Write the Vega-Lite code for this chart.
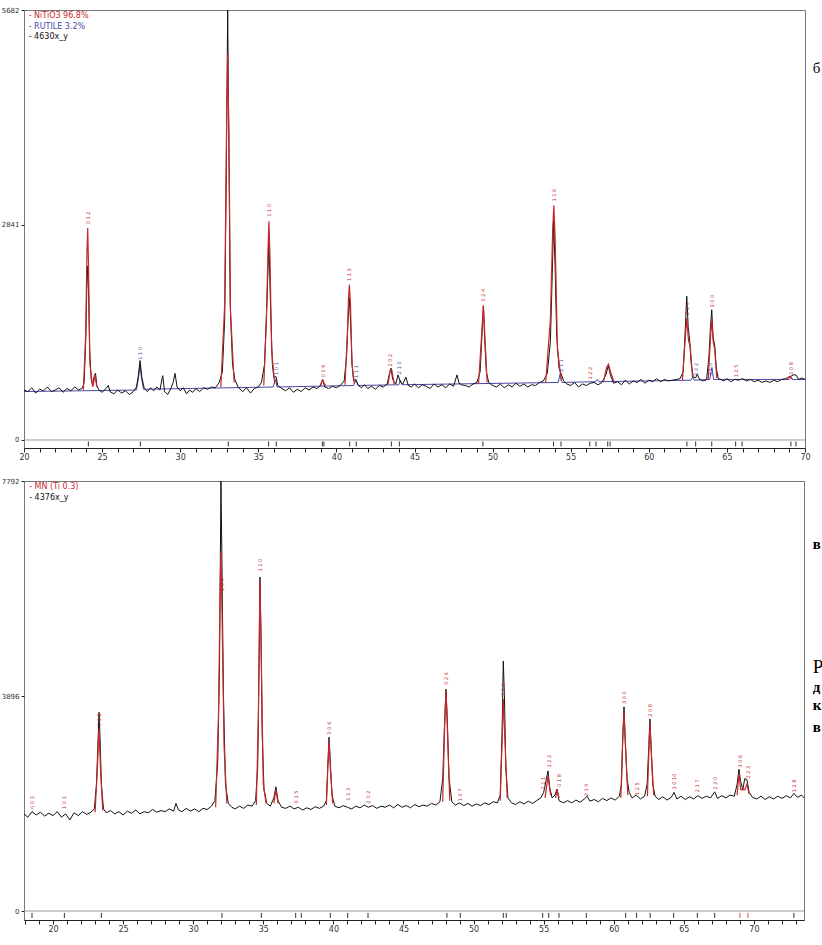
{
"$schema": "https://vega.github.io/schema/vega-lite/v6.json",
"background": "white",
"padding": {"left": 0, "top": 5, "right": 0, "bottom": 0},
"spacing": 14,
"config": {
  "view": {"stroke": "#777", "strokeWidth": 1},
  "axis": {"labelFont": "DejaVu Sans", "labelFontSize": 8, "labelColor": "#333", "grid": false, "title": null, "tickColor": "#222", "domainColor": "#222"}
},
"datasets": {
 "topObs": [{"x":20.0,"y":660},{"x":20.25,"y":640},{"x":20.5,"y":690},{"x":20.75,"y":620},{"x":21.0,"y":670},{"x":21.25,"y":650},{"x":21.5,"y":700},{"x":21.75,"y":640},{"x":22.0,"y":660},{"x":22.25,"y":690},{"x":22.5,"y":630},{"x":22.75,"y":680},{"x":23.0,"y":650},{"x":23.25,"y":700},{"x":23.5,"y":660},{"x":23.75,"y":690},{"x":23.85,"y":760},{"x":23.95,"y":1300},{"x":24.02,"y":2000},{"x":24.08,"y":2300},{"x":24.14,"y":1900},{"x":24.2,"y":1200},{"x":24.3,"y":800},{"x":24.4,"y":720},{"x":24.5,"y":850},{"x":24.58,"y":880},{"x":24.66,"y":720},{"x":24.8,"y":660},{"x":25.0,"y":630},{"x":25.25,"y":680},{"x":25.4,"y":720},{"x":25.5,"y":640},{"x":25.75,"y":610},{"x":26.0,"y":660},{"x":26.25,"y":620},{"x":26.5,"y":650},{"x":26.75,"y":600},{"x":27.0,"y":640},{"x":27.2,"y":700},{"x":27.3,"y":820},{"x":27.43,"y":1050},{"x":27.55,"y":820},{"x":27.7,"y":680},{"x":27.9,"y":640},{"x":28.1,"y":690},{"x":28.3,"y":650},{"x":28.5,"y":700},{"x":28.7,"y":660},{"x":28.88,"y":850},{"x":29.0,"y":640},{"x":29.2,"y":600},{"x":29.4,"y":680},{"x":29.55,"y":760},{"x":29.67,"y":880},{"x":29.8,"y":700},{"x":30.0,"y":650},{"x":30.2,"y":690},{"x":30.4,"y":610},{"x":30.6,"y":660},{"x":30.8,"y":630},{"x":31.0,"y":680},{"x":31.25,"y":640},{"x":31.5,"y":690},{"x":31.75,"y":670},{"x":32.0,"y":700},{"x":32.25,"y":690},{"x":32.5,"y":760},{"x":32.7,"y":900},{"x":32.85,"y":1600},{"x":32.95,"y":3500},{"x":33.04,"y":5682},{"x":33.12,"y":3800},{"x":33.2,"y":1800},{"x":33.35,"y":1000},{"x":33.5,"y":800},{"x":33.7,"y":700},{"x":34.0,"y":640},{"x":34.25,"y":690},{"x":34.5,"y":620},{"x":34.75,"y":680},{"x":35.0,"y":700},{"x":35.2,"y":760},{"x":35.4,"y":1000},{"x":35.55,"y":1800},{"x":35.68,"y":2630},{"x":35.78,"y":1800},{"x":35.9,"y":1000},{"x":36.0,"y":820},{"x":36.13,"y":840},{"x":36.25,"y":720},{"x":36.5,"y":680},{"x":36.75,"y":650},{"x":37.0,"y":690},{"x":37.25,"y":630},{"x":37.5,"y":670},{"x":37.75,"y":640},{"x":38.0,"y":690},{"x":38.25,"y":660},{"x":38.5,"y":700},{"x":38.75,"y":680},{"x":39.0,"y":720},{"x":39.12,"y":800},{"x":39.25,"y":700},{"x":39.5,"y":680},{"x":39.75,"y":710},{"x":40.0,"y":690},{"x":40.25,"y":720},{"x":40.5,"y":780},{"x":40.65,"y":1100},{"x":40.75,"y":1600},{"x":40.83,"y":1880},{"x":40.92,"y":1500},{"x":41.0,"y":1000},{"x":41.1,"y":780},{"x":41.25,"y":800},{"x":41.4,"y":720},{"x":41.6,"y":690},{"x":41.8,"y":730},{"x":42.0,"y":680},{"x":42.25,"y":710},{"x":42.5,"y":670},{"x":42.75,"y":720},{"x":43.0,"y":700},{"x":43.25,"y":740},{"x":43.4,"y":880},{"x":43.5,"y":950},{"x":43.6,"y":800},{"x":43.8,"y":740},{"x":43.95,"y":860},{"x":44.1,"y":760},{"x":44.25,"y":740},{"x":44.45,"y":830},{"x":44.6,"y":720},{"x":44.8,"y":700},{"x":45.0,"y":740},{"x":45.25,"y":690},{"x":45.5,"y":730},{"x":45.75,"y":710},{"x":46.0,"y":680},{"x":46.25,"y":740},{"x":46.5,"y":700},{"x":46.75,"y":730},{"x":47.0,"y":690},{"x":47.25,"y":740},{"x":47.5,"y":710},{"x":47.72,"y":860},{"x":47.85,"y":750},{"x":48.0,"y":730},{"x":48.25,"y":720},{"x":48.5,"y":700},{"x":48.75,"y":740},{"x":49.0,"y":760},{"x":49.2,"y":900},{"x":49.3,"y":1300},{"x":49.41,"y":1770},{"x":49.5,"y":1300},{"x":49.6,"y":900},{"x":49.75,"y":760},{"x":50.0,"y":720},{"x":50.25,"y":700},{"x":50.5,"y":740},{"x":50.75,"y":690},{"x":51.0,"y":730},{"x":51.25,"y":700},{"x":51.5,"y":750},{"x":51.75,"y":710},{"x":52.0,"y":740},{"x":52.25,"y":700},{"x":52.5,"y":730},{"x":52.75,"y":720},{"x":53.0,"y":760},{"x":53.25,"y":780},{"x":53.5,"y":880},{"x":53.7,"y":1300},{"x":53.82,"y":2200},{"x":53.91,"y":2900},{"x":54.0,"y":2300},{"x":54.1,"y":1400},{"x":54.25,"y":950},{"x":54.38,"y":880},{"x":54.55,"y":780},{"x":54.75,"y":740},{"x":55.0,"y":720},{"x":55.25,"y":760},{"x":55.5,"y":700},{"x":55.75,"y":740},{"x":56.0,"y":720},{"x":56.25,"y":750},{"x":56.5,"y":760},{"x":56.75,"y":730},{"x":57.0,"y":760},{"x":57.25,"y":860},{"x":57.41,"y":980},{"x":57.55,"y":850},{"x":57.75,"y":750},{"x":58.0,"y":770},{"x":58.25,"y":730},{"x":58.5,"y":790},{"x":58.75,"y":740},{"x":59.0,"y":780},{"x":59.25,"y":760},{"x":59.5,"y":800},{"x":59.75,"y":750},{"x":60.0,"y":790},{"x":60.25,"y":770},{"x":60.5,"y":810},{"x":60.75,"y":770},{"x":61.0,"y":800},{"x":61.25,"y":780},{"x":61.5,"y":790},{"x":61.75,"y":800},{"x":62.0,"y":810},{"x":62.2,"y":900},{"x":62.32,"y":1400},{"x":62.43,"y":1900},{"x":62.52,"y":1500},{"x":62.62,"y":1300},{"x":62.72,"y":1000},{"x":62.85,"y":830},{"x":63.0,"y":820},{"x":63.1,"y":870},{"x":63.25,"y":800},{"x":63.5,"y":780},{"x":63.7,"y":800},{"x":63.85,"y":1100},{"x":63.95,"y":1500},{"x":64.03,"y":1720},{"x":64.12,"y":1350},{"x":64.22,"y":1250},{"x":64.32,"y":950},{"x":64.45,"y":810},{"x":64.6,"y":800},{"x":64.8,"y":780},{"x":65.0,"y":810},{"x":65.25,"y":770},{"x":65.5,"y":800},{"x":65.75,"y":790},{"x":66.0,"y":810},{"x":66.25,"y":780},{"x":66.5,"y":800},{"x":66.75,"y":770},{"x":67.0,"y":790},{"x":67.25,"y":760},{"x":67.5,"y":780},{"x":67.75,"y":760},{"x":68.0,"y":790},{"x":68.25,"y":770},{"x":68.5,"y":800},{"x":68.75,"y":810},{"x":69.0,"y":830},{"x":69.25,"y":860},{"x":69.42,"y":860},{"x":69.6,"y":800},{"x":69.8,"y":820},{"x":70.0,"y":800}],
 "topRed": [{"s":1,"x":23.8,"y":660},{"s":1,"x":23.95,"y":1400},{"s":1,"x":24.03,"y":2500},{"s":1,"x":24.08,"y":2800},{"s":1,"x":24.13,"y":2300},{"s":1,"x":24.22,"y":1000},{"s":1,"x":24.4,"y":700},{"s":1,"x":24.55,"y":860},{"s":1,"x":24.65,"y":700},
  {"s":2,"x":32.6,"y":700},{"s":2,"x":32.85,"y":1800},{"s":2,"x":32.96,"y":4000},{"s":2,"x":33.04,"y":5100},{"s":2,"x":33.12,"y":4000},{"s":2,"x":33.22,"y":1700},{"s":2,"x":33.45,"y":760},
  {"s":3,"x":35.35,"y":720},{"s":3,"x":35.52,"y":1600},{"s":3,"x":35.62,"y":2500},{"s":3,"x":35.68,"y":2890},{"s":3,"x":35.75,"y":2400},{"s":3,"x":35.85,"y":1200},{"s":3,"x":36.05,"y":740},
  {"s":4,"x":38.95,"y":720},{"s":4,"x":39.12,"y":790},{"s":4,"x":39.3,"y":720},
  {"s":5,"x":40.55,"y":730},{"s":5,"x":40.7,"y":1400},{"s":5,"x":40.78,"y":1900},{"s":5,"x":40.83,"y":2050},{"s":5,"x":40.9,"y":1800},{"s":5,"x":41.0,"y":1000},{"s":5,"x":41.15,"y":740},
  {"s":6,"x":43.3,"y":730},{"s":6,"x":43.45,"y":920},{"s":6,"x":43.55,"y":920},{"s":6,"x":43.7,"y":740},
  {"s":7,"x":49.1,"y":740},{"s":7,"x":49.3,"y":1400},{"s":7,"x":49.41,"y":1780},{"s":7,"x":49.5,"y":1400},{"s":7,"x":49.65,"y":760},
  {"s":8,"x":53.4,"y":760},{"s":8,"x":53.7,"y":1600},{"s":8,"x":53.85,"y":2800},{"s":8,"x":53.92,"y":3100},{"s":8,"x":54.0,"y":2700},{"s":8,"x":54.15,"y":1200},{"s":8,"x":54.4,"y":780},
  {"s":9,"x":57.1,"y":770},{"s":9,"x":57.3,"y":960},{"s":9,"x":57.42,"y":1000},{"s":9,"x":57.55,"y":900},{"s":9,"x":57.75,"y":780},
  {"s":10,"x":62.15,"y":790},{"s":10,"x":62.32,"y":1300},{"s":10,"x":62.43,"y":1610},{"s":10,"x":62.55,"y":1300},{"s":10,"x":62.65,"y":1250},{"s":10,"x":62.8,"y":830},
  {"s":11,"x":63.8,"y":790},{"s":11,"x":63.95,"y":1350},{"s":11,"x":64.03,"y":1600},{"s":11,"x":64.12,"y":1300},{"s":11,"x":64.22,"y":1200},{"s":11,"x":64.35,"y":820},
  {"s":12,"x":68.8,"y":800},{"s":12,"x":69.0,"y":840},{"s":12,"x":69.2,"y":800}],
 "topBlue": [{"x":20,"y":640},{"x":27.2,"y":660},{"x":27.35,"y":850},{"x":27.43,"y":1000},{"x":27.5,"y":850},{"x":27.65,"y":670},{"x":35.95,"y":700},{"x":36.1,"y":800},{"x":36.2,"y":700},{"x":41.1,"y":720},{"x":41.25,"y":790},{"x":41.4,"y":720},{"x":44.0,"y":730},{"x":44.1,"y":790},{"x":44.2,"y":730},{"x":54.2,"y":760},{"x":54.32,"y":870},{"x":54.45,"y":760},{"x":56.6,"y":770},{"x":56.7,"y":800},{"x":56.8,"y":770},{"x":62.7,"y":790},{"x":62.8,"y":830},{"x":62.9,"y":790},{"x":63.9,"y":800},{"x":64.04,"y":960},{"x":64.15,"y":800},{"x":69.0,"y":800},{"x":69.1,"y":830},{"x":69.2,"y":800},{"x":70,"y":800}],
 "topRefl": [{"x":24.12},{"x":27.45},{"x":33.08},{"x":35.66},{"x":36.15},{"x":39.1},{"x":39.2},{"x":40.85},{"x":41.27},{"x":43.52},{"x":44.03},{"x":49.38},{"x":53.9},{"x":54.38},{"x":56.22},{"x":56.62},{"x":57.37},{"x":57.52},{"x":62.44},{"x":63.0},{"x":64.03},{"x":65.56},{"x":65.97},{"x":69.1},{"x":69.42}],
 "topLab": [{"p":"NiTiO3","x":24.08,"y":2850,"t":"0 1 2"},{"p":"NiTiO3","x":35.68,"y":2950,"t":"1 1 0"},{"p":"NiTiO3","x":39.12,"y":830,"t":"0 0 6"},{"p":"NiTiO3","x":40.83,"y":2100,"t":"1 1 3"},{"p":"NiTiO3","x":43.45,"y":970,"t":"2 0 2"},{"p":"NiTiO3","x":49.41,"y":1830,"t":"0 2 4"},{"p":"NiTiO3","x":53.92,"y":3150,"t":"1 1 6"},{"p":"NiTiO3","x":56.22,"y":800,"t":"1 2 2"},{"p":"NiTiO3","x":62.43,"y":1650,"t":"2 1 4"},{"p":"NiTiO3","x":64.03,"y":1750,"t":"3 0 0"},{"p":"NiTiO3","x":65.6,"y":830,"t":"1 2 5"},{"p":"NiTiO3","x":69.1,"y":860,"t":"2 0 8"},
   {"p":"RUTILE","x":27.43,"y":1060,"t":"1 1 0"},{"p":"RUTILE","x":36.13,"y":860,"t":"1 0 1"},{"p":"RUTILE","x":41.25,"y":820,"t":"1 1 1"},{"p":"RUTILE","x":44.03,"y":870,"t":"2 1 0"},{"p":"RUTILE","x":54.38,"y":900,"t":"2 1 1"},{"p":"RUTILE","x":63.0,"y":850,"t":"0 0 2"},{"p":"RUTILE","x":63.9,"y":850,"t":"3 1 0"}],
 "topLegend": [{"p":"NiTiO3","x":20.3,"y":5600,"t":"- NiTiO3  96.8%"},{"p":"RUTILE","x":20.3,"y":5460,"t":"- RUTILE  3.2%"},{"p":"obs","x":20.3,"y":5320,"t":"- 4630x_y"}],
 "botObs": [{"x":17.93,"y":1760},{"x":18.2,"y":1700},{"x":18.5,"y":1800},{"x":18.8,"y":1740},{"x":19.1,"y":1790},{"x":19.4,"y":1720},{"x":19.7,"y":1770},{"x":20.0,"y":1730},{"x":20.3,"y":1800},{"x":20.6,"y":1700},{"x":20.9,"y":1760},{"x":21.2,"y":1650},{"x":21.5,"y":1780},{"x":21.8,"y":1730},{"x":22.1,"y":1800},{"x":22.4,"y":1750},{"x":22.7,"y":1790},{"x":22.95,"y":1850},{"x":23.1,"y":2300},{"x":23.2,"y":3000},{"x":23.28,"y":3600},{"x":23.36,"y":3100},{"x":23.45,"y":2300},{"x":23.6,"y":1850},{"x":23.8,"y":1780},{"x":24.1,"y":1820},{"x":24.4,"y":1760},{"x":24.7,"y":1800},{"x":25.0,"y":1740},{"x":25.3,"y":1810},{"x":25.6,"y":1770},{"x":25.9,"y":1830},{"x":26.2,"y":1760},{"x":26.5,"y":1800},{"x":26.8,"y":1780},{"x":27.1,"y":1840},{"x":27.4,"y":1790},{"x":27.7,"y":1820},{"x":28.0,"y":1800},{"x":28.3,"y":1850},{"x":28.6,"y":1810},{"x":28.77,"y":1950},{"x":28.95,"y":1830},{"x":29.2,"y":1800},{"x":29.5,"y":1860},{"x":29.8,"y":1810},{"x":30.1,"y":1850},{"x":30.4,"y":1800},{"x":30.7,"y":1860},{"x":31.0,"y":1840},{"x":31.3,"y":1900},{"x":31.55,"y":2000},{"x":31.75,"y":2700},{"x":31.88,"y":4500},{"x":31.98,"y":7792},{"x":32.06,"y":6100},{"x":32.15,"y":4000},{"x":32.3,"y":2300},{"x":32.5,"y":1950},{"x":32.75,"y":1880},{"x":33.0,"y":1850},{"x":33.3,"y":1900},{"x":33.6,"y":1860},{"x":33.9,"y":1920},{"x":34.2,"y":1900},{"x":34.45,"y":2000},{"x":34.6,"y":2600},{"x":34.7,"y":4500},{"x":34.76,"y":6050},{"x":34.84,"y":5000},{"x":34.92,"y":3200},{"x":35.05,"y":2200},{"x":35.25,"y":1950},{"x":35.5,"y":1900},{"x":35.75,"y":2050},{"x":35.9,"y":2250},{"x":36.05,"y":2000},{"x":36.3,"y":1880},{"x":36.6,"y":1860},{"x":36.9,"y":1900},{"x":37.2,"y":1850},{"x":37.5,"y":1880},{"x":37.8,"y":1830},{"x":38.1,"y":1870},{"x":38.4,"y":1840},{"x":38.7,"y":1890},{"x":39.0,"y":1860},{"x":39.3,"y":1900},{"x":39.5,"y":2000},{"x":39.6,"y":2600},{"x":39.69,"y":3150},{"x":39.78,"y":2700},{"x":39.9,"y":2100},{"x":40.1,"y":1900},{"x":40.4,"y":1870},{"x":40.7,"y":1910},{"x":41.0,"y":1880},{"x":41.3,"y":1850},{"x":41.6,"y":1900},{"x":41.9,"y":1870},{"x":42.2,"y":1920},{"x":42.5,"y":1880},{"x":42.8,"y":1910},{"x":43.1,"y":1860},{"x":43.4,"y":1900},{"x":43.7,"y":1880},{"x":44.0,"y":1920},{"x":44.3,"y":1870},{"x":44.6,"y":1930},{"x":44.9,"y":1880},{"x":45.2,"y":1910},{"x":45.5,"y":1870},{"x":45.8,"y":1930},{"x":46.1,"y":1890},{"x":46.4,"y":1920},{"x":46.7,"y":1900},{"x":47.0,"y":1950},{"x":47.3,"y":1920},{"x":47.6,"y":1980},{"x":47.8,"y":2400},{"x":47.93,"y":3400},{"x":48.03,"y":4020},{"x":48.12,"y":3500},{"x":48.25,"y":2400},{"x":48.45,"y":1980},{"x":48.7,"y":1920},{"x":49.0,"y":1960},{"x":49.3,"y":1910},{"x":49.6,"y":1950},{"x":49.9,"y":1900},{"x":50.2,"y":1940},{"x":50.5,"y":1910},{"x":50.8,"y":1960},{"x":51.1,"y":1930},{"x":51.4,"y":1980},{"x":51.7,"y":1960},{"x":51.9,"y":2100},{"x":52.03,"y":3200},{"x":52.12,"y":4530},{"x":52.2,"y":3900},{"x":52.3,"y":2600},{"x":52.45,"y":2050},{"x":52.7,"y":1960},{"x":53.0,"y":1930},{"x":53.3,"y":1980},{"x":53.6,"y":1940},{"x":53.9,"y":1990},{"x":54.2,"y":1950},{"x":54.5,"y":2000},{"x":54.8,"y":2050},{"x":55.0,"y":2150},{"x":55.2,"y":2400},{"x":55.31,"y":2540},{"x":55.42,"y":2250},{"x":55.6,"y":2050},{"x":55.8,"y":2100},{"x":55.95,"y":2210},{"x":56.1,"y":2000},{"x":56.4,"y":1960},{"x":56.7,"y":2000},{"x":57.0,"y":1960},{"x":57.3,"y":2010},{"x":57.6,"y":1970},{"x":57.9,"y":2030},{"x":58.1,"y":2080},{"x":58.3,"y":1990},{"x":58.6,"y":2020},{"x":58.9,"y":1980},{"x":59.2,"y":2040},{"x":59.5,"y":2000},{"x":59.8,"y":2050},{"x":60.1,"y":2010},{"x":60.4,"y":2080},{"x":60.55,"y":2300},{"x":60.65,"y":3200},{"x":60.73,"y":3700},{"x":60.82,"y":3100},{"x":60.95,"y":2400},{"x":61.1,"y":2150},{"x":61.3,"y":2050},{"x":61.6,"y":2100},{"x":61.9,"y":2030},{"x":62.2,"y":2080},{"x":62.38,"y":2300},{"x":62.5,"y":3000},{"x":62.58,"y":3480},{"x":62.66,"y":3000},{"x":62.78,"y":2300},{"x":62.95,"y":2080},{"x":63.2,"y":2020},{"x":63.5,"y":2070},{"x":63.8,"y":2010},{"x":64.1,"y":2060},{"x":64.3,"y":2150},{"x":64.5,"y":2030},{"x":64.8,"y":2080},{"x":65.1,"y":2020},{"x":65.4,"y":2070},{"x":65.7,"y":2030},{"x":66.0,"y":2090},{"x":66.3,"y":2040},{"x":66.6,"y":2080},{"x":66.9,"y":2050},{"x":67.2,"y":2160},{"x":67.4,"y":2040},{"x":67.7,"y":2090},{"x":68.0,"y":2050},{"x":68.3,"y":2100},{"x":68.6,"y":2080},{"x":68.8,"y":2300},{"x":68.93,"y":2570},{"x":69.05,"y":2350},{"x":69.2,"y":2200},{"x":69.35,"y":2400},{"x":69.5,"y":2380},{"x":69.65,"y":2150},{"x":69.9,"y":2060},{"x":70.2,"y":2030},{"x":70.5,"y":2080},{"x":70.8,"y":2020},{"x":71.1,"y":2070},{"x":71.4,"y":2030},{"x":71.7,"y":2080},{"x":72.0,"y":2040},{"x":72.3,"y":2090},{"x":72.6,"y":2050},{"x":72.85,"y":2130},{"x":73.1,"y":2060},{"x":73.4,"y":2100},{"x":73.57,"y":2050}],
 "botRed": [{"s":1,"x":23.0,"y":1790},{"s":1,"x":23.15,"y":2500},{"s":1,"x":23.28,"y":3300},{"s":1,"x":23.4,"y":2500},{"s":1,"x":23.55,"y":1820},
  {"s":2,"x":31.6,"y":1880},{"s":2,"x":31.8,"y":3500},{"s":2,"x":31.93,"y":6000},{"s":2,"x":31.98,"y":6500},{"s":2,"x":32.05,"y":5500},{"s":2,"x":32.2,"y":3000},{"s":2,"x":32.4,"y":1950},
  {"s":3,"x":34.5,"y":1920},{"s":3,"x":34.65,"y":3500},{"s":3,"x":34.76,"y":6000},{"s":3,"x":34.86,"y":4500},{"s":3,"x":35.0,"y":2300},{"s":3,"x":35.2,"y":1950},
  {"s":4,"x":35.75,"y":1950},{"s":4,"x":35.9,"y":2200},{"s":4,"x":36.05,"y":1950},
  {"s":5,"x":39.5,"y":1920},{"s":5,"x":39.6,"y":2600},{"s":5,"x":39.69,"y":3100},{"s":5,"x":39.8,"y":2500},{"s":5,"x":39.95,"y":1950},
  {"s":6,"x":47.8,"y":1980},{"s":6,"x":47.93,"y":3300},{"s":6,"x":48.03,"y":4000},{"s":6,"x":48.13,"y":3300},{"s":6,"x":48.3,"y":2000},
  {"s":7,"x":51.9,"y":2000},{"s":7,"x":52.05,"y":3200},{"s":7,"x":52.12,"y":3840},{"s":7,"x":52.22,"y":3200},{"s":7,"x":52.4,"y":2050},
  {"s":8,"x":55.1,"y":2050},{"s":8,"x":55.31,"y":2450},{"s":8,"x":55.5,"y":2100},
  {"s":9,"x":55.85,"y":2050},{"s":9,"x":55.95,"y":2200},{"s":9,"x":56.1,"y":2050},
  {"s":10,"x":60.5,"y":2050},{"s":10,"x":60.65,"y":3200},{"s":10,"x":60.73,"y":3600},{"s":10,"x":60.83,"y":3000},{"s":10,"x":61.0,"y":2100},
  {"s":11,"x":62.4,"y":2080},{"s":11,"x":62.52,"y":3000},{"s":11,"x":62.58,"y":3400},{"s":11,"x":62.67,"y":2900},{"s":11,"x":62.85,"y":2100},
  {"s":12,"x":68.8,"y":2100},{"s":12,"x":68.93,"y":2500},{"s":12,"x":69.05,"y":2200},{"s":12,"x":69.35,"y":2200},{"s":12,"x":69.5,"y":2300},{"s":12,"x":69.65,"y":2120}],
 "botRefl": [{"g":"a","x":18.5},{"g":"a","x":20.81},{"g":"a","x":23.45},{"g":"a","x":32.05},{"g":"a","x":34.86},{"g":"a","x":37.31},{"g":"a","x":37.71},{"g":"a","x":39.78},{"g":"a","x":41.02},{"g":"a","x":42.47},{"g":"a","x":48.1},{"g":"a","x":49.05},{"g":"a","x":52.12},{"g":"a","x":52.33},{"g":"a","x":54.93},{"g":"a","x":55.36},{"g":"a","x":56.09},{"g":"a","x":58.04},{"g":"a","x":60.85},{"g":"a","x":61.63},{"g":"a","x":62.6},{"g":"a","x":64.27},{"g":"a","x":65.96},{"g":"a","x":67.2},{"g":"b","x":69.0},{"g":"b","x":69.57},{"g":"a","x":72.85}],
 "botLab": [{"x":18.5,"y":1850,"t":"0 0 3"},{"x":20.81,"y":1850,"t":"1 0 1"},{"x":23.28,"y":3350,"t":"0 1 2"},{"x":32.05,"y":5800,"t":"1 0 4"},{"x":34.76,"y":6150,"t":"1 1 0"},{"x":37.31,"y":1950,"t":"0 1 5"},{"x":39.69,"y":3200,"t":"0 0 6"},{"x":41.02,"y":2000,"t":"1 1 3"},{"x":42.47,"y":1950,"t":"2 0 2"},{"x":48.03,"y":4100,"t":"0 2 4"},{"x":49.05,"y":1990,"t":"1 0 7"},{"x":52.12,"y":3900,"t":"1 1 6"},{"x":54.93,"y":2200,"t":"2 1 1"},{"x":55.36,"y":2600,"t":"1 2 2"},{"x":56.09,"y":2250,"t":"0 1 8"},{"x":58.04,"y":2080,"t":"2 1 4"},{"x":60.73,"y":3750,"t":"3 0 0"},{"x":61.63,"y":2100,"t":"1 2 5"},{"x":62.58,"y":3520,"t":"2 0 8"},{"x":64.27,"y":2200,"t":"1 0 10"},{"x":65.96,"y":2150,"t":"2 1 7"},{"x":67.2,"y":2200,"t":"2 2 0"},{"x":69.0,"y":2600,"t":"3 0 6"},{"x":69.57,"y":2400,"t":"2 2 3"},{"x":72.85,"y":2150,"t":"1 2 8"}],
 "botLegend": [{"p":"MN","x":18.3,"y":7680,"t":"- MN (Ti 0.3)"},{"p":"obs","x":18.3,"y":7480,"t":"- 4376x_y"}]
},
"vconcat": [
 {
  "width": 781, "height": 438,
  "encoding": {
    "x": {"field": "x", "type": "quantitative", "scale": {"domain": [20, 70], "nice": false, "zero": false},
      "axis": {"values": [20,21,22,23,24,25,26,27,28,29,30,31,32,33,34,35,36,37,38,39,40,41,42,43,44,45,46,47,48,49,50,51,52,53,54,55,56,57,58,59,60,61,62,63,64,65,66,67,68,69,70], "labelExpr": "datum.value % 5 === 0 ? datum.label : ''", "labelOverlap": false, "labelFlush": false, "tickSize": 4, "labelPadding": 1, "format": "d"}}
  },
  "layer": [
   {"data": {"values": [{"x": 20, "x2": 70, "y": 0}]}, "mark": {"type": "rule", "color": "#999", "strokeWidth": 1},
    "encoding": {"x2": {"field": "x2"},
      "y": {"field": "y", "type": "quantitative", "scale": {"domain": [-106, 5682], "nice": false, "zero": false},
        "axis": {"values": [0, 2841, 5682], "format": "d", "domain": false, "tickSize": 3, "labelPadding": 2, "labelFontSize": 7, "labelOverlap": false}}}},
   {"data": {"name": "topRefl"}, "mark": {"type": "rule", "color": "#333", "strokeWidth": 1},
    "encoding": {"y": {"datum": -20}, "y2": {"datum": -85}}},
   {"data": {"name": "topBlue"}, "mark": {"type": "line", "color": "#4848a8", "strokeWidth": 1},
    "encoding": {"y": {"field": "y", "type": "quantitative"}}},
   {"data": {"name": "topObs"}, "mark": {"type": "line", "color": "#111", "strokeWidth": 1},
    "encoding": {"y": {"field": "y", "type": "quantitative"}}},
   {"data": {"name": "topRed"}, "mark": {"type": "line", "color": "#c8262a", "strokeWidth": 1.2},
    "encoding": {"y": {"field": "y", "type": "quantitative"}, "detail": {"field": "s", "type": "nominal"}}},
   {"data": {"name": "topLab"}, "mark": {"type": "text", "angle": 270, "align": "left", "baseline": "middle", "fontSize": 5, "font": "DejaVu Sans"},
    "encoding": {"y": {"field": "y", "type": "quantitative"}, "text": {"field": "t"},
      "color": {"field": "p", "type": "nominal", "scale": {"domain": ["NiTiO3", "RUTILE", "obs"], "range": ["#c8262a", "#4848a8", "#111"]}, "legend": null}}},
   {"data": {"name": "topLegend"}, "mark": {"type": "text", "align": "left", "baseline": "middle", "fontSize": 8, "font": "DejaVu Sans"},
    "encoding": {"y": {"field": "y", "type": "quantitative"}, "text": {"field": "t"},
      "color": {"field": "p", "type": "nominal", "scale": {"domain": ["NiTiO3", "RUTILE", "obs"], "range": ["#c8262a", "#4848a8", "#111"]}, "legend": null}}},
   {"data": {"values": [{"x": 70.5, "y": 4914, "t": "б"}]}, "mark": {"type": "text", "align": "left", "baseline": "middle", "fontSize": 15, "font": "Liberation Serif", "color": "#000"},
    "encoding": {"y": {"field": "y", "type": "quantitative"}, "text": {"field": "t"}}}
  ]
 },
 {
  "width": 780, "height": 439,
  "encoding": {
    "x": {"field": "x", "type": "quantitative", "scale": {"domain": [17.93, 73.57], "nice": false, "zero": false},
      "axis": {"values": [18,19,20,21,22,23,24,25,26,27,28,29,30,31,32,33,34,35,36,37,38,39,40,41,42,43,44,45,46,47,48,49,50,51,52,53,54,55,56,57,58,59,60,61,62,63,64,65,66,67,68,69,70,71,72,73], "labelExpr": "datum.value % 5 === 0 ? datum.label : ''", "labelOverlap": false, "labelFlush": false, "tickSize": 4, "labelPadding": 1, "format": "d"}}
  },
  "layer": [
   {"data": {"values": [{"x": 17.93, "x2": 73.57, "y": 0}]}, "mark": {"type": "rule", "color": "#999", "strokeWidth": 1},
    "encoding": {"x2": {"field": "x2"},
      "y": {"field": "y", "type": "quantitative", "scale": {"domain": [-163, 7792], "nice": false, "zero": false},
        "axis": {"values": [0, 3896, 7792], "format": "d", "domain": false, "tickSize": 3, "labelPadding": 2, "labelFontSize": 7, "labelOverlap": false}}}},
   {"data": {"name": "botRefl"}, "mark": {"type": "rule", "strokeWidth": 1},
    "encoding": {"y": {"datum": -35}, "y2": {"datum": -125},
      "color": {"field": "g", "type": "nominal", "scale": {"domain": ["a", "b"], "range": ["#333", "#d05050"]}, "legend": null}}},
   {"data": {"name": "botObs"}, "mark": {"type": "line", "color": "#111", "strokeWidth": 1},
    "encoding": {"y": {"field": "y", "type": "quantitative"}}},
   {"data": {"name": "botRed"}, "mark": {"type": "line", "color": "#c8262a", "strokeWidth": 1.2},
    "encoding": {"y": {"field": "y", "type": "quantitative"}, "detail": {"field": "s", "type": "nominal"}}},
   {"data": {"name": "botLab"}, "mark": {"type": "text", "angle": 270, "align": "left", "baseline": "middle", "fontSize": 5, "font": "DejaVu Sans", "color": "#c8262a"},
    "encoding": {"y": {"field": "y", "type": "quantitative"}, "text": {"field": "t"}}},
   {"data": {"name": "botLegend"}, "mark": {"type": "text", "align": "left", "baseline": "middle", "fontSize": 8, "font": "DejaVu Sans"},
    "encoding": {"y": {"field": "y", "type": "quantitative"}, "text": {"field": "t"},
      "color": {"field": "p", "type": "nominal", "scale": {"domain": ["MN", "obs"], "range": ["#c8262a", "#111"]}, "legend": null}}},
   {"data": {"values": [{"x": 74.2, "y": 6650, "t": "в"}, {"x": 74.2, "y": 4059, "t": "д"}, {"x": 74.2, "y": 3733, "t": "к"}, {"x": 74.2, "y": 3334, "t": "в"}]}, "mark": {"type": "text", "align": "left", "baseline": "middle", "fontSize": 15, "font": "Liberation Serif", "fontWeight": "bold", "color": "#000"},
    "encoding": {"y": {"field": "y", "type": "quantitative"}, "text": {"field": "t"}}},
   {"data": {"values": [{"x": 74.2, "y": 4421, "t": "Р"}]}, "mark": {"type": "text", "align": "left", "baseline": "middle", "fontSize": 19, "font": "Liberation Serif", "color": "#000"},
    "encoding": {"y": {"field": "y", "type": "quantitative"}, "text": {"field": "t"}}}
  ],
  "resolve": {"scale": {"color": "independent"}}
 }
]
}
